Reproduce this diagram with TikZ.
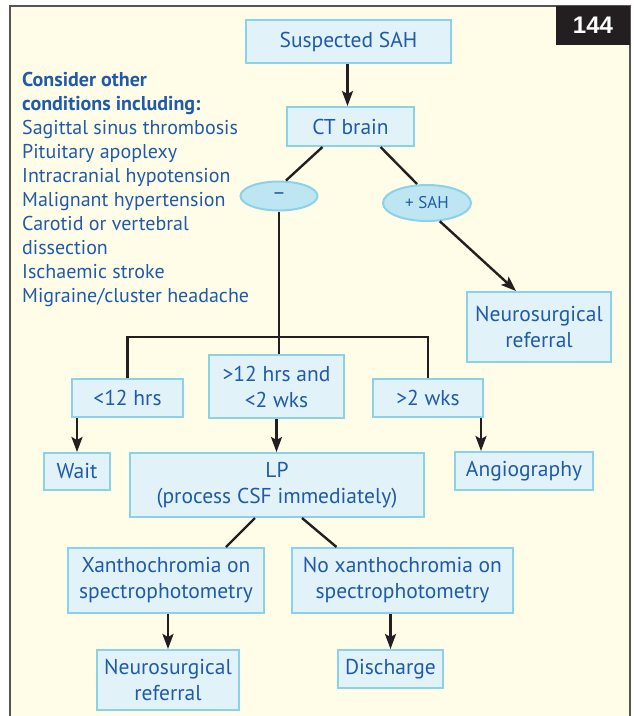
\documentclass[tikz,border=0pt]{standalone}
\usepackage{fontspec}
\setmainfont{PT Sans}
\newfontfamily\numfont{Liberation Sans}
\usetikzlibrary{shapes.geometric,arrows.meta,calc}
\definecolor{cream}{HTML}{FFFDE8}
\definecolor{boxfill}{HTML}{E2F2F9}
\definecolor{ellfill}{HTML}{BEE5F2}
\definecolor{boxline}{HTML}{8AD2E8}
\definecolor{txtblue}{HTML}{1F5BA8}
\definecolor{arrowcol}{HTML}{231F20}
\definecolor{framecol}{HTML}{555555}
\begin{document}
\begin{tikzpicture}[x=1pt,y=-1pt,
  flowbox/.style={draw=boxline, line width=2pt, fill=boxfill, text=txtblue,
    align=center, inner sep=0pt, font=\fontsize{21.5}{26}\selectfont},
  ellbox/.style={ellipse, draw=boxline, line width=2pt, fill=ellfill, text=txtblue,
    inner sep=0pt},
  conn/.style={draw=arrowcol, line width=2.4pt},
  arr/.style={conn, -{Stealth[length=15pt,width=11pt,inset=3pt]}}
]
\useasboundingbox (0,0) rectangle (633,716);
\fill[white] (0,0) rectangle (633,716);
\fill[cream] (10,6) rectangle (630,716);
\draw[framecol, line width=1.5pt] (10,716) -- (10,6) -- (630,6) -- (630,716);
\fill[arrowcol] (556,6) rectangle (630,45);
\node[text=white, font=\numfont\bfseries\fontsize{24}{24}\selectfont] (num) at (593,25.5) {144};

\node[anchor=north west, align=left, text=txtblue, inner sep=0pt,
  font=\fontsize{20}{24}\selectfont] (others) at (22,72)
  {\textbf{Consider other}\\ \textbf{conditions including:}\\ Sagittal sinus thrombosis\\
   Pituitary apoplexy\\ Intracranial hypotension\\ Malignant hypertension\\
   Carotid or vertebral\\ dissection\\ Ischaemic stroke\\ Migraine/cluster headache};

\node[flowbox, minimum width=205pt, minimum height=43pt] (sah) at (348.5,41.5) {Suspected SAH};
\node[flowbox, minimum width=127pt, minimum height=39pt] (ct) at (350.5,126.5) {CT brain};
\node[ellbox, minimum width=77pt, minimum height=29pt, font=\fontsize{21}{21}\selectfont] (neg) at (279,196) {–};
\node[ellbox, minimum width=88pt, minimum height=36pt, font=\fontsize{17}{17}\selectfont] (pos) at (427,203) {+ SAH};
\node[flowbox, minimum width=144pt, minimum height=70pt] (nr1) at (539,327) {Neurosurgical\\referral};
\node[flowbox, minimum width=111pt, minimum height=38pt] (lt12) at (127.5,398) {<12 hrs};
\node[flowbox, minimum width=135pt, minimum height=63pt] (mid) at (276.5,386.5) {>12 hrs and\\<2 wks};
\node[flowbox, minimum width=110pt, minimum height=38pt] (gt2) at (428,398) {>2 wks};
\node[flowbox, minimum width=66pt, minimum height=37pt] (wait) at (77,471.5) {Wait};
\node[flowbox, minimum width=294pt, minimum height=64pt] (lp) at (277,485) {LP\\(process CSF immediately)};
\node[flowbox, minimum width=138pt, minimum height=38pt] (ang) at (524,471) {Angiography};
\node[flowbox, minimum width=196pt, minimum height=65pt] (xan) at (166,580.5) {Xanthochromia on\\spectrophotometry};
\node[flowbox, minimum width=221pt, minimum height=65pt] (noxan) at (402.5,580.5) {No xanthochromia on\\spectrophotometry};
\node[flowbox, minimum width=142pt, minimum height=60pt] (nr2) at (168,680) {Neurosurgical\\referral};
\node[flowbox, minimum width=105pt, minimum height=38pt] (dis) at (390.5,669) {Discharge};

\coordinate (junc) at (277,337);

\draw[arr] ([xshift=-1pt]sah.south) -- ([xshift=-1pt]sah.south |- ct.north);
\draw[conn] ([xshift=-28pt]ct.south) -- ([xshift=7pt]neg.north);
\draw[conn] ([xshift=30pt]ct.south) -- ([xshift=-10pt]pos.north);
\draw[arr] (pos.-55) -- ([xshift=-23pt]nr1.north);
\draw[conn] (neg.south) -- (neg.south |- mid.north);
\draw[conn] (lt12.north) |- (junc) -| (gt2.north);
\draw[arr] (wait.north |- lt12.south) -- (wait.north);
\draw[arr] (mid.south) -- (mid.south |- lp.north);
\draw[arr] ([xshift=-43pt]ang.north |- gt2.south) -- ([xshift=-43pt]ang.north);
\draw[conn] ([xshift=-22pt]lp.south) -- ([xshift=60pt]xan.north);
\draw[conn] ([xshift=25pt]lp.south) -- ([xshift=-66pt]noxan.north);
\draw[arr] (nr2.north |- xan.south) -- (nr2.north);
\draw[arr] (dis.north |- noxan.south) -- (dis.north);
\end{tikzpicture}
\end{document}
